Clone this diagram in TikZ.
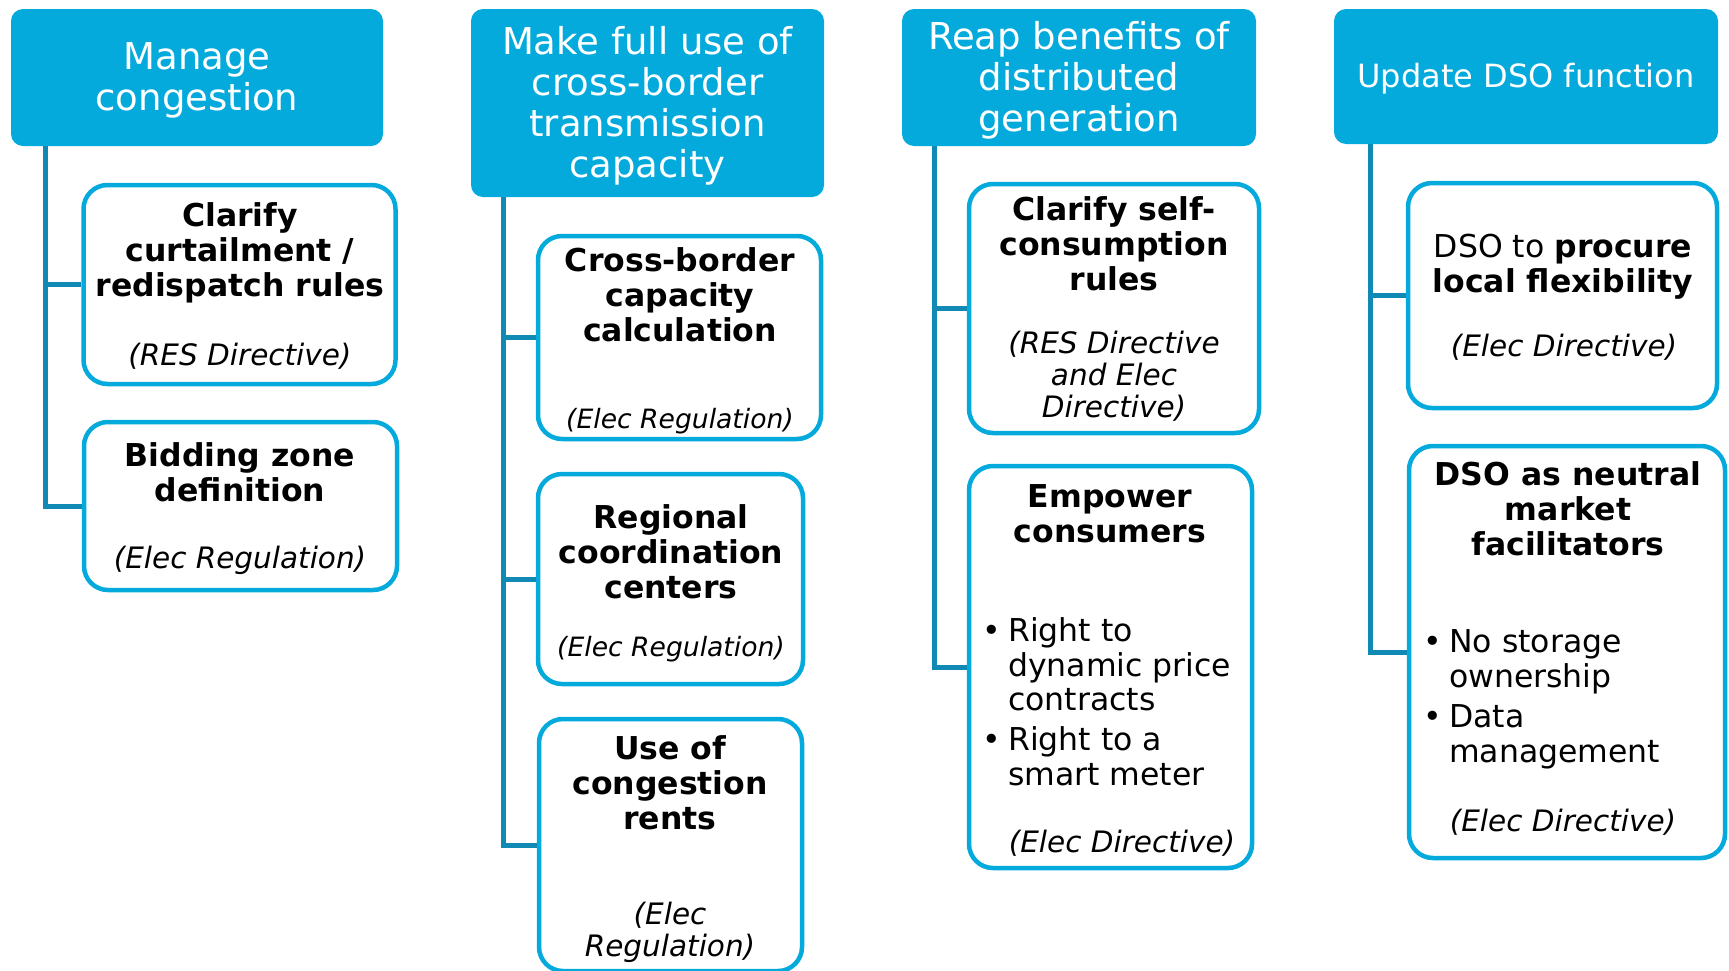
\documentclass[tikz,border=0pt]{standalone}
\usepackage{fontspec}
\setmainfont{DejaVu Sans}
\usetikzlibrary{positioning}
\definecolor{hdblue}{RGB}{5,170,220}
\definecolor{lnblue}{RGB}{16,137,180}

\tikzset{
  header/.style={fill=hdblue, rounded corners=12pt, inner sep=0pt},
  htext/.style={text=white, align=center, inner sep=0pt, font=\fontsize{37}{41}\selectfont},
  item/.style={draw=hdblue, line width=4.5pt, rounded corners=24pt, fill=white},
  ttl/.style={anchor=base, align=center, inner sep=0pt, font=\bfseries\fontsize{31.5}{34.8}\selectfont},
  src/.style={anchor=base, align=center, inner sep=0pt, font=\itshape\fontsize{29.5}{32}\selectfont},
  bullets/.style={anchor=base west, align=left, inner sep=0pt, font=\fontsize{31.5}{34.5}\selectfont},
  trunk/.style={draw=lnblue, line width=5pt},
}
\newcommand{\bul}{\llap{\textbullet\hspace{7pt}}}

\begin{document}
\begin{tikzpicture}[x=1pt,y=-1pt]
\useasboundingbox (0,0) rectangle (1729,970);

% headers
\node[header, minimum width=372, minimum height=137] (h1) at (197,77.5) {};
\node[htext] (h1-t) at ([yshift=-3pt]h1.center) {Manage\\congestion};
\node[header, minimum width=353, minimum height=188] (h2) at (647.5,103) {};
\node[htext] (h2-t) at ([yshift=-3pt]h2.center) {Make full use of\\cross-border\\transmission\\capacity};
\node[header, minimum width=354, minimum height=137] (h3) at (1079,77.5) {};
\node[htext] (h3-t) at ([yshift=-3pt]h3.center) {Reap benefits of\\distributed\\generation};
\node[header, minimum width=384, minimum height=135] (h4) at (1526,76.5) {};
\node[htext, font=\fontsize{32}{36}\selectfont] (h4-t) at ([yshift=-2pt]h4.center) {Update DSO function};

% column 1 (text nodes sit on the baseline of their last line)
\node[item, minimum width=312, minimum height=199] (c1a) at (239.5,284.5) {};
\node[ttl] (c1a-t) at (240,296) {Clarify\\curtailment /\\redispatch rules};
\node[src] (c1a-s) at (240,365) {(RES Directive)};
\node[item, minimum width=313, minimum height=168] (c1b) at (240.5,506) {};
\node[ttl] (c1b-t) at (240,501) {Bidding zone\\definition};
\node[src] (c1b-s) at (240,568) {(Elec Regulation)};

% column 2
\node[item, minimum width=283, minimum height=203] (c2a) at (679.5,337.5) {};
\node[ttl] (c2a-t) at (680,341) {Cross-border\\capacity\\calculation};
\node[src, font=\itshape\fontsize{26.6}{32}\selectfont] (c2a-s) at (680,428) {(Elec Regulation)};
\node[item, minimum width=265, minimum height=210] (c2b) at (670.5,579) {};
\node[ttl] (c2b-t) at (671,598) {Regional\\coordination\\centers};
\node[src, font=\itshape\fontsize{26.6}{32}\selectfont] (c2b-s) at (671,656) {(Elec Regulation)};
\node[item, minimum width=263, minimum height=252] (c2c) at (670.5,845) {};
\node[ttl] (c2c-t) at (670,829) {Use of\\congestion\\rents};
\node[src] (c2c-s) at (670,956) {(Elec\\Regulation)};

% column 3
\node[item, minimum width=290, minimum height=249] (c3a) at (1114,308.5) {};
\node[ttl] (c3a-t) at (1114,290) {Clarify self-\\consumption\\rules};
\node[src] (c3a-s) at (1114,417) {(RES Directive\\and Elec\\Directive)};
\node[item, minimum width=283, minimum height=402] (c3b) at (1110.5,667) {};
\node[ttl] (c3b-t) at (1110,542) {Empower\\consumers};
\node[bullets] (c3b-l) at (1008,785) {\bul Right to\\dynamic price\\contracts\\[5.5pt]\bul Right to a\\smart meter};
\node[src] (c3b-s) at (1122,852) {(Elec Directive)};

% column 4
\node[item, minimum width=309, minimum height=225] (c4a) at (1562.5,295.5) {};
\node[ttl, font=\fontsize{31.5}{34.5}\selectfont] (c4a-t) at (1563,292) {DSO to \textbf{procure}\\\textbf{local flexibility}};
\node[src] (c4a-s) at (1564,356) {(Elec Directive)};
\node[item, minimum width=316, minimum height=412] (c4b) at (1567,652) {};
\node[ttl] (c4b-t) at (1568,555) {DSO as neutral\\market\\facilitators};
\node[bullets] (c4b-l) at (1449,762) {\bul No storage\\ownership\\[6pt]\bul Data\\management};
\node[src] (c4b-s) at (1563,831) {(Elec Directive)};

% connectors
\coordinate (t1) at (45,146);
\coordinate (t2) at (503,197);
\coordinate (t3) at (934,146);
\coordinate (t4) at (1370,144);
\draw[trunk] (t1) |- (c1b.west);
\draw[trunk] (t1 |- c1a.west) -- (c1a.west);
\draw[trunk] (t2) |- (c2c.west);
\foreach \b in {c2a,c2b}
  \draw[trunk] (t2 |- \b.west) -- (\b.west);
\draw[trunk] (t3) |- (c3b.west);
\draw[trunk] (t3 |- c3a.west) -- (c3a.west);
\draw[trunk] (t4) |- (c4b.west);
\draw[trunk] (t4 |- c4a.west) -- (c4a.west);

\end{tikzpicture}
\end{document}
